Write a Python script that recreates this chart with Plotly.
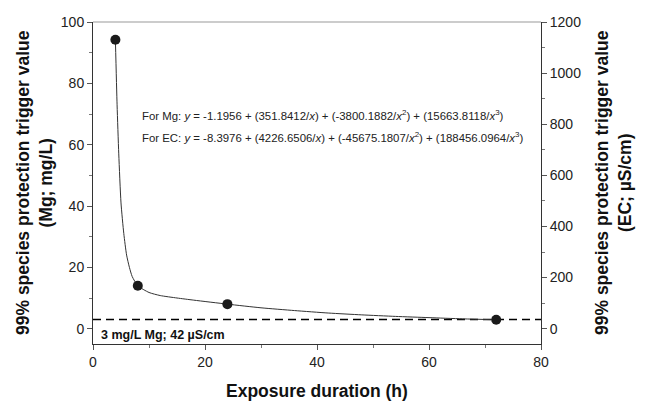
import plotly.graph_objects as go

# measured trigger values (Mg, mg/L) by exposure duration
hours = [4, 8, 24, 72]
mg_values = [94.2, 14.0, 8.0, 2.9]

# fitted curve
curve_hours = [4, 4.3, 4.6, 5, 5.5, 6, 6.5, 7, 8, 10, 12, 15, 18, 24, 30, 36, 42, 48, 54, 60, 66, 72]
curve_mg = [94.2, 73, 57, 41, 31, 24, 20, 17, 14, 11.8, 10.8, 10.0, 9.3, 8.0, 6.8, 5.9, 5.1, 4.5, 4.0, 3.6, 3.2, 2.9]

# right axis (EC) equivalents, same points
ec_values = [1130, 168, 96, 42]

threshold_mg = 3
threshold_label = "3 mg/L Mg; 42 \u00b5S/cm"
eq_mg = ("For Mg: <i>y</i> = -1.1956 + (351.8412/<i>x</i>) + (-3800.1882/<i>x</i><sup>2</sup>)"
         " + (15663.8118/<i>x</i><sup>3</sup>)")
eq_ec = ("For EC: <i>y</i> = -8.3976 + (4226.6506/<i>x</i>) + (-45675.1807/<i>x</i><sup>2</sup>)"
         " + (188456.0964/<i>x</i><sup>3</sup>)")

FONT = "Liberation Sans, Arial"

fig = go.Figure()

fig.add_trace(go.Scatter(x=[0, 80], y=[threshold_mg, threshold_mg], mode="lines",
                         line=dict(color="black", width=1.5, dash="8px,5px"),
                         showlegend=False, hoverinfo="skip"))
fig.add_trace(go.Scatter(x=curve_hours, y=curve_mg, mode="lines",
                         line=dict(color="#333333", width=1, shape="spline", smoothing=0.6),
                         showlegend=False))
fig.add_trace(go.Scatter(x=hours, y=mg_values, mode="markers",
                         marker=dict(color="#1a1a1a", size=10),
                         showlegend=False))
# invisible EC trace so the right axis is drawn
fig.add_trace(go.Scatter(x=hours, y=ec_values, yaxis="y2", mode="markers",
                         marker=dict(opacity=0), showlegend=False, hoverinfo="skip"))

axis_font = dict(family=FONT, size=14, color="#222222")
title_font = dict(family=FONT, size=17.5, color="#111111")

# page body adds an 8px margin, so the figure is a bit smaller than the window
fig.update_layout(
    width=642, height=401,
    margin=dict(l=85, r=109, t=14, b=65),
    paper_bgcolor="white", plot_bgcolor="white",
    font=dict(family=FONT),
    xaxis=dict(range=[0, 80], tickvals=[0, 20, 40, 60, 80], ticks="outside", ticklen=5,
               tickcolor="#555555", showline=True, linecolor="#333333", linewidth=1,
               showgrid=False, zeroline=False, tickfont=axis_font, automargin=False,
               minor=dict(tickvals=[10, 30, 50, 70], ticks="outside", ticklen=3, tickcolor="#777777")),
    yaxis=dict(range=[-5, 100], tickvals=[0, 20, 40, 60, 80, 100], ticks="outside", ticklen=5,
               tickcolor="#555555", showline=True, linecolor="#333333", linewidth=1,
               showgrid=False, zeroline=False, tickfont=axis_font, automargin=False,
               minor=dict(tickvals=[10, 30, 50, 70, 90], ticks="outside", ticklen=3, tickcolor="#777777")),
    yaxis2=dict(range=[-60, 1200], overlaying="y", side="right",
                tickvals=[0, 200, 400, 600, 800, 1000, 1200], ticks="outside", ticklen=5,
                tickcolor="#555555", showline=True, linecolor="#333333", linewidth=1,
                showgrid=False, zeroline=False, tickfont=axis_font, automargin=False,
                minor=dict(tickvals=[100, 300, 500, 700, 900, 1100], ticks="outside", ticklen=3,
                           tickcolor="#777777")),
)

# grey top frame line
fig.add_shape(type="line", xref="paper", yref="paper", x0=0, x1=1, y0=1, y1=1,
              line=dict(color="#999999", width=1))

# axis titles as annotations so they sit where the original has them
fig.add_annotation(xref="paper", yref="paper", x=0.5, y=0, xanchor="center", yanchor="middle",
                   yshift=-47, text="<b>Exposure duration (h)</b>", showarrow=False, font=title_font)
fig.add_annotation(xref="paper", yref="paper", x=0, y=0.5, xanchor="center", yanchor="middle",
                   xshift=-59, textangle=-90,
                   text="<b>99% species protection trigger value<br>(Mg; mg/L)</b>",
                   showarrow=False, font=title_font)
fig.add_annotation(xref="paper", yref="paper", x=1, y=0.5, xanchor="center", yanchor="middle",
                   xshift=72, textangle=-90,
                   text="<b>99% species protection trigger value<br>(EC; \u00b5S/cm)</b>",
                   showarrow=False, font=title_font)

fig.add_annotation(x=8.4, y=69.6, text=eq_mg, showarrow=False, xanchor="left",
                   font=dict(family=FONT, size=11.4, color="#222222"))
fig.add_annotation(x=8.4, y=62.6, text=eq_ec, showarrow=False, xanchor="left",
                   font=dict(family=FONT, size=11.4, color="#222222"))
fig.add_annotation(x=1.0, y=-2.0, text="<b>" + threshold_label + "</b>", showarrow=False,
                   xanchor="left", font=dict(family=FONT, size=12.5, color="#111111"))

fig.write_html("out.html")
